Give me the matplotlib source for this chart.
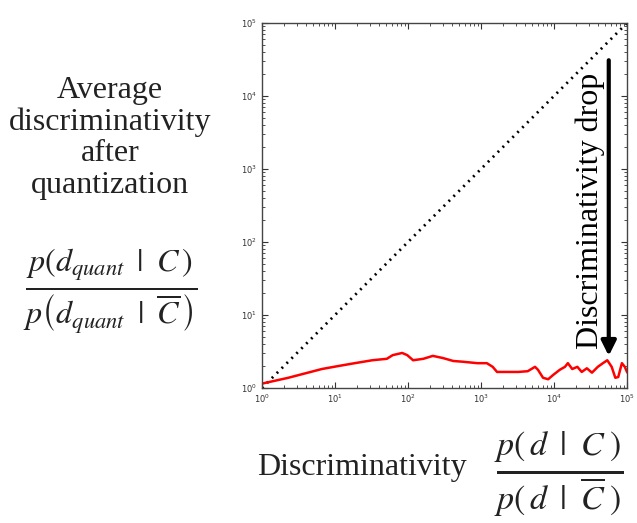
import matplotlib
matplotlib.use("Agg")
import matplotlib.pyplot as plt
import numpy as np

plt.rcParams['mathtext.fontset'] = 'stix'

# red curve (log10 of x and y)
curve_log_x = [0.00, 0.36, 0.59, 0.82, 1.04, 1.27, 1.51, 1.71, 1.79, 1.92,
               1.99, 2.07, 2.21, 2.34, 2.48, 2.62, 2.75, 2.95, 3.08, 3.16,
               3.22, 3.37, 3.51, 3.64, 3.74, 3.78, 3.85, 3.92, 3.99, 4.08,
               4.15, 4.19, 4.25, 4.32, 4.38, 4.45, 4.52, 4.60, 4.67, 4.73,
               4.79, 4.84, 4.88, 4.93, 4.97, 5.00]
curve_log_y = [0.06, 0.14, 0.20, 0.26, 0.30, 0.34, 0.38, 0.40, 0.45, 0.48,
               0.45, 0.38, 0.40, 0.44, 0.41, 0.37, 0.36, 0.34, 0.34, 0.29,
               0.22, 0.22, 0.22, 0.23, 0.29, 0.25, 0.14, 0.12, 0.18, 0.25,
               0.29, 0.34, 0.26, 0.29, 0.22, 0.27, 0.21, 0.29, 0.34, 0.38,
               0.29, 0.14, 0.15, 0.34, 0.29, 0.22]
diag_x = [1, 1e5]
diag_y = [1, 1e5]
ticks = [1, 10, 100, 1e3, 1e4, 1e5]

curve_x = 10 ** np.array(curve_log_x)
curve_y = 10 ** np.array(curve_log_y)

fig = plt.figure(figsize=(6.37, 5.23), dpi=100)
ax = fig.add_axes([262 / 637, 1 - 388 / 523, 365 / 637, 365 / 523])

ax.plot(diag_x, diag_y, color='black', linestyle=(0, (0.7, 1.8)), lw=2.0)
ax.plot(curve_x, curve_y, color='red', lw=1.8)

ax.set_xscale('log')
ax.set_yscale('log')
ax.set_xlim(1, 1e5)
ax.set_ylim(1, 1e5)
ax.set_xticks(ticks)
ax.set_yticks(ticks)
ax.tick_params(which='both', direction='in', top=True, right=True,
               labelsize=6, colors='#333333')
ax.tick_params(which='major', length=4)
ax.tick_params(which='minor', length=2)
for s in ax.spines.values():
    s.set_linewidth(1.0)
    s.set_color('#444444')

# arrow and its label
ax.annotate('', xy=(10 ** 4.75, 10 ** 0.44), xytext=(10 ** 4.75, 10 ** 4.49),
            arrowprops=dict(arrowstyle='-|>', color='black', lw=3,
                            mutation_scale=22, shrinkA=0, shrinkB=0))
ax.text(10 ** 4.49, 10 ** 2.42, 'Discriminativity drop', rotation=90,
        ha='center', va='center', family='Liberation Serif', fontsize=23)

# left label
fig.text(110 / 637, 1 - 138 / 523,
         'Average\ndiscriminativity\nafter\nquantization',
         ha='center', va='center', family='Liberation Serif', fontsize=23,
         linespacing=1.1, color='#222222')
fig.text(110 / 637, 1 - 292 / 523,
         r'$\frac{p\left(d_{quant}\;\;|\;\;C\,\right)}'
         r'{p\left(d_{quant}\;\;|\;\;\overline{C}\,\right)}$',
         ha='center', va='center', fontsize=33, color='#222222')

# bottom label
fig.text(257 / 637, 1 - 468 / 523, 'Discriminativity',
         ha='left', va='center', family='Liberation Serif', fontsize=23,
         color='#222222')
fig.text(559 / 637, 1 - 474 / 523,
         r'$\frac{p\left(\,d\;\;|\;\;C\;\right)}{p\left(\,d\;\;|\;\;\overline{C}\;\right)}$',
         ha='center', va='center', fontsize=35, color='#222222')

fig.savefig('out.png', dpi=100)
